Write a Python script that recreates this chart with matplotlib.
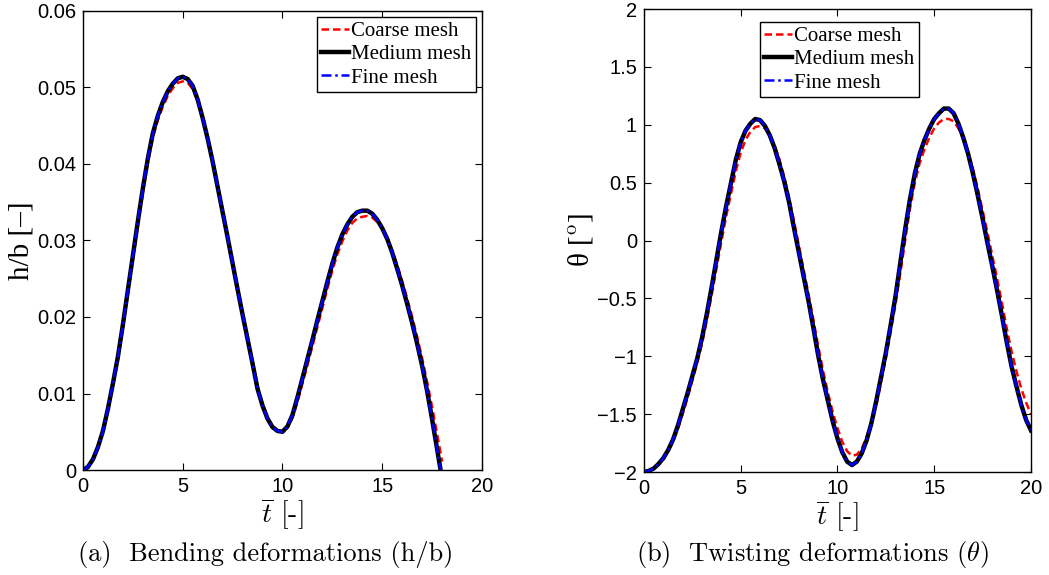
import matplotlib
matplotlib.use("Agg")
import matplotlib.pyplot as plt

plt.rcParams['mathtext.fontset'] = 'cm'
plt.rcParams['axes.unicode_minus'] = True

# non-dimensional time, step 0.25
t_hb = [i * 0.25 for i in range(73)]      # 0 .. 18
t_th = [i * 0.25 for i in range(81)]      # 0 .. 20

# bending deformation h/b
hb_medium = [0.0000, 0.0004, 0.0014, 0.0030, 0.0051, 0.0080, 0.0113, 0.0148,
             0.0190, 0.0235, 0.0280, 0.0325, 0.0368, 0.0407, 0.0440, 0.0463,
             0.0481, 0.0495, 0.0505, 0.0512, 0.0514, 0.0511, 0.0502, 0.0484,
             0.0460, 0.0433, 0.0403, 0.0370, 0.0337, 0.0304, 0.0270, 0.0236,
             0.0203, 0.0171, 0.0139, 0.0106, 0.0084, 0.0067, 0.0056, 0.0051,
             0.0050, 0.0057, 0.0072, 0.0095, 0.0120, 0.0145, 0.0170, 0.0196,
             0.0221, 0.0246, 0.0270, 0.0291, 0.0308, 0.0321, 0.0331, 0.0337,
             0.0339, 0.0339, 0.0335, 0.0327, 0.0316, 0.0302, 0.0284, 0.0263,
             0.0241, 0.0217, 0.0192, 0.0165, 0.0136, 0.0103, 0.0066, 0.0027,
             -0.0012]
hb_coarse = [0.0000, 0.0004, 0.0014, 0.0029, 0.0050, 0.0078, 0.0110, 0.0145,
             0.0186, 0.0230, 0.0275, 0.0319, 0.0362, 0.0401, 0.0434, 0.0457,
             0.0475, 0.0489, 0.0499, 0.0506, 0.0508, 0.0506, 0.0498, 0.0482,
             0.0459, 0.0433, 0.0404, 0.0372, 0.0339, 0.0306, 0.0272, 0.0238,
             0.0205, 0.0173, 0.0143, 0.0109, 0.0087, 0.0069, 0.0058, 0.0052,
             0.0051, 0.0055, 0.0068, 0.0089, 0.0113, 0.0137, 0.0162, 0.0187,
             0.0212, 0.0237, 0.0261, 0.0282, 0.0299, 0.0313, 0.0323, 0.0329,
             0.0331, 0.0332, 0.0330, 0.0324, 0.0315, 0.0303, 0.0287, 0.0268,
             0.0247, 0.0224, 0.0200, 0.0174, 0.0146, 0.0115, 0.0082, 0.0047,
             0.0011]
hb_fine = list(hb_medium)

# twisting deformation theta [deg]
th_medium = [-2.00, -1.99, -1.97, -1.93, -1.88, -1.81, -1.72, -1.60, -1.46,
             -1.32, -1.17, -1.02, -0.84, -0.63, -0.40, -0.16, 0.08, 0.30,
             0.50, 0.70, 0.85, 0.95, 1.01, 1.05, 1.04, 0.99, 0.91, 0.80,
             0.66, 0.51, 0.33, 0.11, -0.10, -0.31, -0.52, -0.75, -0.99,
             -1.20, -1.38, -1.56, -1.71, -1.83, -1.91, -1.94, -1.91, -1.84,
             -1.73, -1.58, -1.39, -1.18, -0.97, -0.73, -0.48, -0.19, 0.10,
             0.36, 0.58, 0.75, 0.87, 0.97, 1.05, 1.10, 1.14, 1.14, 1.10,
             1.01, 0.89, 0.75, 0.58, 0.39, 0.19, -0.02, -0.22, -0.43, -0.65,
             -0.88, -1.09, -1.26, -1.42, -1.55, -1.64]
th_coarse = [-2.00, -1.99, -1.97, -1.94, -1.89, -1.82, -1.74, -1.63, -1.50,
             -1.36, -1.21, -1.06, -0.89, -0.69, -0.47, -0.24, -0.01, 0.21,
             0.41, 0.60, 0.76, 0.87, 0.94, 0.98, 0.99, 0.97, 0.91, 0.82,
             0.70, 0.55, 0.37, 0.17, -0.04, -0.25, -0.46, -0.68, -0.91,
             -1.12, -1.31, -1.48, -1.62, -1.74, -1.82, -1.86, -1.85, -1.80,
             -1.70, -1.57, -1.43, -1.23, -1.02, -0.79, -0.55, -0.28, 0.00,
             0.28, 0.50, 0.67, 0.79, 0.89, 0.97, 1.02, 1.05, 1.05, 1.03,
             0.97, 0.88, 0.76, 0.62, 0.45, 0.26, 0.07, -0.13, -0.33, -0.54,
             -0.76, -0.96, -1.13, -1.28, -1.40, -1.50]
th_fine = list(th_medium)

labels = ['Coarse mesh', 'Medium mesh', 'Fine mesh']

fig = plt.figure(figsize=(10.49, 5.75), dpi=100)
ax1 = fig.add_axes([0.0791, 0.1826, 0.3804, 0.7983])
ax2 = fig.add_axes([0.6139, 0.1791, 0.3689, 0.8052])


def draw(ax, t, coarse, medium, fine):
    ax.plot(t, coarse, color='red', linestyle=(0, (3, 1.6)), linewidth=1.8, label=labels[0])
    ax.plot(t, medium, color='black', linewidth=3.2, label=labels[1])
    ax.plot(t, fine, color='blue', linestyle=(0, (4, 1.5, 1, 1.5)), linewidth=1.8, label=labels[2])
    ax.set_xlim(0, 20)
    ax.set_xticks([0, 5, 10, 15, 20])
    ax.tick_params(direction='in', top=True, right=True, length=5, width=0.8,
                   labelsize=14.5, pad=5)
    for lab in ax.get_xticklabels() + ax.get_yticklabels():
        lab.set_family('Liberation Sans')
    for sp in ax.spines.values():
        sp.set_linewidth(1.0)
    ax.set_xlabel(r'$\overline{t}$ [-]', fontsize=20, family='cmr10', labelpad=0)


draw(ax1, t_hb, hb_coarse, hb_medium, hb_fine)
ax1.set_ylim(0, 0.06)
ax1.set_yticks([0, 0.01, 0.02, 0.03, 0.04, 0.05, 0.06])
ax1.set_yticklabels(['0', '0.01', '0.02', '0.03', '0.04', '0.05', '0.06'], family='Liberation Sans')
ax1.set_ylabel('h/b [–]', fontsize=21, family='Liberation Serif', labelpad=2)

draw(ax2, t_th, th_coarse, th_medium, th_fine)
ax2.set_ylim(-2, 2)
ax2.set_yticks([-2, -1.5, -1, -0.5, 0, 0.5, 1, 1.5, 2])
ax2.set_yticklabels(['\u22122', '\u22121.5', '\u22121', '\u22120.5', '0', '0.5', '1', '1.5', '2'],
                    family='Liberation Sans')
ax2.set_ylabel(r'θ [$^{\mathrm{o}}$]', fontsize=21, family='Liberation Serif', labelpad=2)

leg_kw = dict(prop={'family': 'Liberation Serif', 'size': 15}, fancybox=False,
              edgecolor='black', framealpha=1, handlelength=1.35, handletextpad=0.1,
              labelspacing=0.18, borderpad=0.2, borderaxespad=0.3)
l1 = ax1.legend(loc='upper right', bbox_to_anchor=(1.0, 1.0), **leg_kw)
l2 = ax2.legend(loc='upper center', bbox_to_anchor=(0.505, 0.985), **leg_kw)
for leg in (l1, l2):
    leg.get_frame().set_linewidth(1.0)

fig.text(0.2536, 0.035, '(a)  Bending deformations (h/b)', fontsize=19,
         family='cmr10', ha='center', va='center')
fig.text(0.774, 0.035, r'(b)  Twisting deformations ($\theta$)', fontsize=19,
         family='cmr10', ha='center', va='center')

fig.savefig('out.png', dpi=100)
